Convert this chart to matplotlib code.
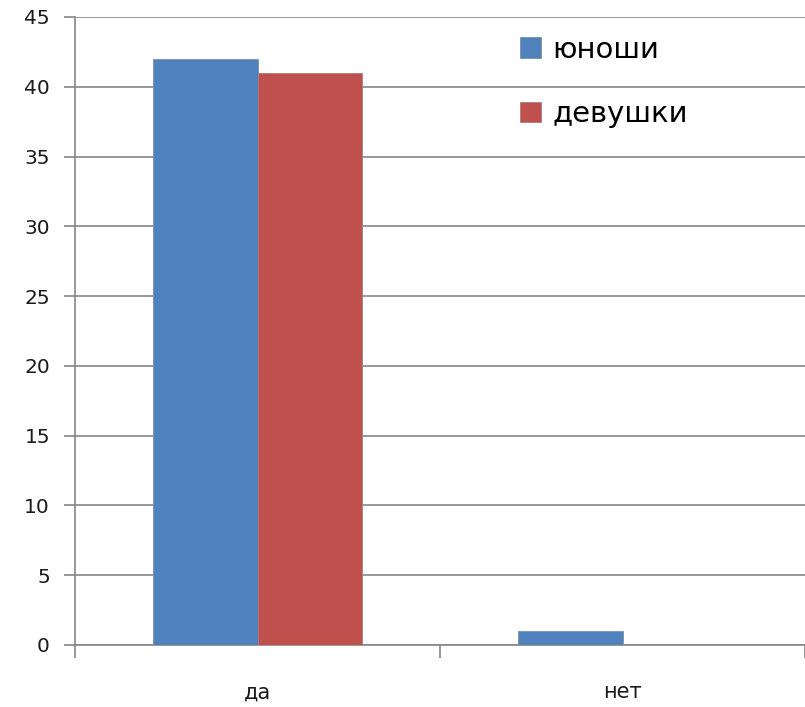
import matplotlib
matplotlib.use("Agg")
import matplotlib.pyplot as plt
import numpy as np

categories = ["да", "нет"]
series_names = ["юноши", "девушки"]
boys = [42, 1]
girls = [41, 0]
yticks = [0, 5, 10, 15, 20, 25, 30, 35, 40, 45]

colors = ["#4F81BD", "#C0504D"]
grid_color = "#868686"

fig = plt.figure(figsize=(8.05, 7.07), dpi=100)
ax = fig.add_axes([75/805, 1-645/707, 1-75/805, (645-17)/707])

x = np.arange(len(categories))
w = 0.285
ax.bar(x - w/2, boys, w, color=colors[0], label=series_names[0], zorder=3, edgecolor="#7f8fa8", linewidth=0.6)
ax.bar(x + w/2, girls, w, color=colors[1], label=series_names[1], zorder=3, edgecolor="#a87f7f", linewidth=0.6)

ax.set_xlim(-0.5, 1.5)
ax.set_ylim(0, 45)
ax.set_yticks(yticks)
ax.set_yticklabels([str(t) for t in yticks])
ax.yaxis.grid(True, color=grid_color, linewidth=1.2, zorder=0)
ax.set_axisbelow(True)

for s in ["top", "right"]:
    ax.spines[s].set_visible(False)
ax.spines["left"].set_color(grid_color)
ax.spines["bottom"].set_color(grid_color)
ax.spines["left"].set_linewidth(1.2)
ax.spines["bottom"].set_linewidth(1.2)

ax.set_xticks([-0.5, 0.5, 1.5], minor=False)
ax.set_xticklabels([])
ax.set_xticks(x, minor=True)
ax.set_xticklabels(categories, minor=True)
ax.tick_params(axis="x", which="major", length=9, color=grid_color, width=1.2, direction="out")
ax.tick_params(axis="x", which="minor", length=0, pad=27, labelsize=15, labelcolor="#1a1a1a")
ax.tick_params(axis="y", length=8, color=grid_color, width=1.2, labelsize=14.5, pad=10, labelcolor="#1a1a1a")

leg = ax.legend(loc="upper left", bbox_to_anchor=(0.574, 1.012), frameon=False, fontsize=21,
                handlelength=0.7, handleheight=0.7, handletextpad=0.4, labelspacing=1.25)

fig.savefig("out.png", dpi=100)
